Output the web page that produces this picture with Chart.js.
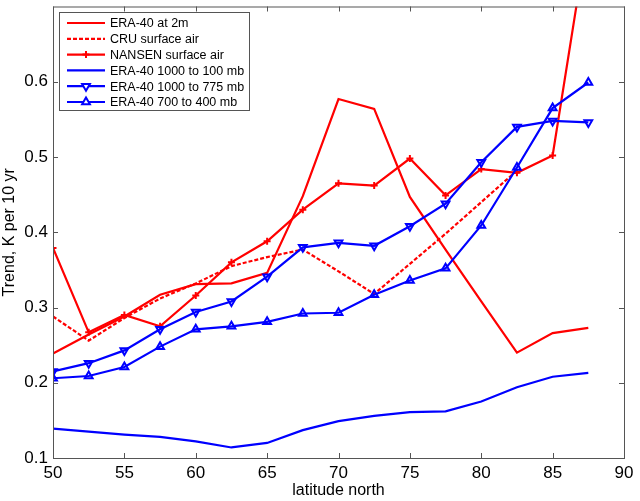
<!DOCTYPE html>
<html>
<head>
<meta charset="utf-8">
<script src="https://cdn.jsdelivr.net/npm/chart.js@4.4.1/dist/chart.umd.min.js"></script>
<style>
  body { margin: 0; background: #fff; }
  #wrap { width: 640px; height: 501px; position: relative; }
</style>
</head>
<body>
<div id="wrap"><canvas id="trendChart"></canvas></div>
<script>
// Data
const latitude = [50, 52.5, 55, 57.5, 60, 62.5, 65, 67.5, 70, 72.5, 75, 77.5, 80, 82.5, 85, 87.5];
const era2m = [0.239, 0.264, 0.288, 0.317, 0.331, 0.332, 0.346, 0.448, 0.577, 0.564, 0.447, 0.377, 0.308, 0.240, 0.266, 0.273];
const cruSurface = [0.288, 0.256, 0.286, 0.312, 0.332, 0.355, 0.367, 0.377, 0.348, 0.318, 0.358, 0.398, 0.440, 0.482, null, null];
const nansenSurface = [0.379, 0.267, 0.290, 0.275, 0.316, 0.360, 0.388, 0.430, 0.465, 0.462, 0.498, 0.449, 0.484, 0.479, 0.502, 0.80];
const era1000to100 = [0.139, 0.135, 0.131, 0.128, 0.122, 0.114, 0.120, 0.137, 0.149, 0.156, 0.161, 0.162, 0.175, 0.194, 0.208, 0.213];
const era1000to775 = [0.215, 0.226, 0.243, 0.271, 0.294, 0.308, 0.341, 0.380, 0.386, 0.382, 0.408, 0.438, 0.493, 0.540, 0.548, 0.546];
const era700to400 = [0.206, 0.209, 0.221, 0.248, 0.271, 0.275, 0.281, 0.292, 0.293, 0.317, 0.336, 0.352, 0.409, 0.486, 0.565, 0.599];

const xTicks = [50, 55, 60, 65, 70, 75, 80, 85, 90];
const yTicks = [0.1, 0.2, 0.3, 0.4, 0.5, 0.6];

const RED = '#ff0000';
const BLUE = '#0000ff';
const FONT = '"Liberation Sans", Arial, sans-serif';

const toPoints = arr => latitude.map((x, i) => ({ x: x, y: arr[i] })).filter(p => p.y !== null);

const series = [
  { label: 'ERA-40 at 2m', data: era2m, color: RED, dash: [], marker: false, rot: 0 },
  { label: 'CRU surface air', data: cruSurface, color: RED, dash: [4, 2], marker: false, rot: 0 },
  { label: 'NANSEN surface air', data: nansenSurface, color: RED, dash: [], marker: 'cross', rot: 0 },
  { label: 'ERA-40 1000 to 100 mb', data: era1000to100, color: BLUE, dash: [], marker: false, rot: 0 },
  { label: 'ERA-40 1000 to 775 mb', data: era1000to775, color: BLUE, dash: [], marker: 'triangle', rot: 180 },
  { label: 'ERA-40 700 to 400 mb', data: era700to400, color: BLUE, dash: [], marker: 'triangle', rot: 0 }
];

// Frame + inward tick marks, MATLAB style
const framePlugin = {
  id: 'frame',
  afterDatasetsDraw(chart) {
    const { ctx, chartArea: a, scales } = chart;
    ctx.save();
    ctx.strokeStyle = '#555';
    ctx.lineWidth = 1;
    ctx.strokeRect(a.left + 0.5, a.top + 0.5, a.right - a.left, a.bottom - a.top);
    const len = 5;
    ctx.beginPath();
    scales.x.ticks.forEach(t => {
      const px = Math.round(scales.x.getPixelForValue(t.value)) + 0.5;
      ctx.moveTo(px, a.bottom); ctx.lineTo(px, a.bottom - len);
      ctx.moveTo(px, a.top); ctx.lineTo(px, a.top + len);
    });
    scales.y.ticks.forEach(t => {
      const py = Math.round(scales.y.getPixelForValue(t.value)) + 0.5;
      ctx.moveTo(a.left, py); ctx.lineTo(a.left + len, py);
      ctx.moveTo(a.right, py); ctx.lineTo(a.right - len, py);
    });
    ctx.stroke();
    ctx.restore();
  }
};

// Legend box drawn inside the plot
const boxLegend = {
  id: 'boxLegend',
  afterDraw(chart) {
    const ctx = chart.ctx;
    const bx = 59, by = 12, bw = 190, bh = 98;
    ctx.save();
    ctx.fillStyle = '#fff';
    ctx.fillRect(bx, by, bw, bh);
    ctx.strokeStyle = '#555';
    ctx.lineWidth = 1;
    ctx.strokeRect(bx + 0.5, by + 0.5, bw, bh);
    ctx.font = '12.5px ' + FONT;
    ctx.textBaseline = 'middle';
    series.forEach((s, i) => {
      const y = by + 11 + i * 15.8;
      ctx.strokeStyle = s.color;
      ctx.lineWidth = 2.2;
      ctx.setLineDash(s.dash);
      ctx.beginPath();
      ctx.moveTo(67, y); ctx.lineTo(105, y);
      ctx.stroke();
      ctx.setLineDash([]);
      if (s.marker) {
        ctx.fillStyle = '#fff';
        ctx.lineWidth = 2;
        Chart.helpers.drawPoint(ctx, {
          pointStyle: s.marker, radius: s.marker === 'cross' ? 3.5 : 4.5, rotation: s.rot, borderWidth: 2
        }, 86, y);
      }
      ctx.fillStyle = '#000';
      ctx.fillText(s.label, 110, y + 1);
    });
    ctx.restore();
  }
};

const chart = new Chart(document.getElementById('trendChart'), {
  type: 'line',
  data: {
    datasets: series.map((s, i) => ({
      label: s.label,
      data: toPoints(s.data),
      borderColor: s.color,
      backgroundColor: 'transparent',
      borderWidth: 2.2,
      borderDash: s.dash,
      pointStyle: s.marker || 'circle',
      pointRadius: s.marker ? (s.marker === 'cross' ? 3.5 : 4.5) : 0,
      pointRotation: s.rot,
      pointBorderWidth: 2,
      pointBorderColor: s.color,
      pointBackgroundColor: 'transparent',
      tension: 0,
      fill: false,
      order: series.length - i
    }))
  },
  options: {
    responsive: true,
    maintainAspectRatio: false,
    animation: false,
    layout: { padding: { top: 5, right: 16, left: 0, bottom: 0 } },
    plugins: {
      legend: { display: false },
      tooltip: { enabled: false }
    },
    scales: {
      x: {
        type: 'linear',
        min: 50,
        max: 90,
        afterBuildTicks: scale => { scale.ticks = xTicks.map(v => ({ value: v })); },
        afterFit: scale => { scale.height = 43; scale.paddingLeft = 0; scale.paddingRight = 0; },
        grid: { display: false, drawTicks: false },
        border: { display: false },
        ticks: {
          color: '#000',
          padding: 5,
          maxRotation: 0,
          font: { family: FONT, size: 17 },
          callback: v => String(v)
        },
        title: {
          display: true,
          text: 'latitude north',
          color: '#000',
          padding: { top: 0, bottom: 1 },
          font: { family: FONT, size: 16 }
        }
      },
      y: {
        min: 0.1,
        max: 0.7,
        afterBuildTicks: scale => { scale.ticks = yTicks.map(v => ({ value: v })); },
        afterFit: scale => { scale.width = 53; scale.paddingTop = 0; scale.paddingBottom = 0; },
        grid: { display: false, drawTicks: false },
        border: { display: false },
        ticks: {
          color: '#000',
          padding: 5,
          font: { family: FONT, size: 17 },
          callback: v => v.toFixed(1)
        },
        title: {
          display: true,
          text: 'Trend, K per 10 yr',
          color: '#000',
          padding: { top: 0, bottom: 0 },
          font: { family: FONT, size: 16 }
        }
      }
    }
  },
  plugins: [framePlugin, boxLegend]
});
</script>
</body>
</html>
